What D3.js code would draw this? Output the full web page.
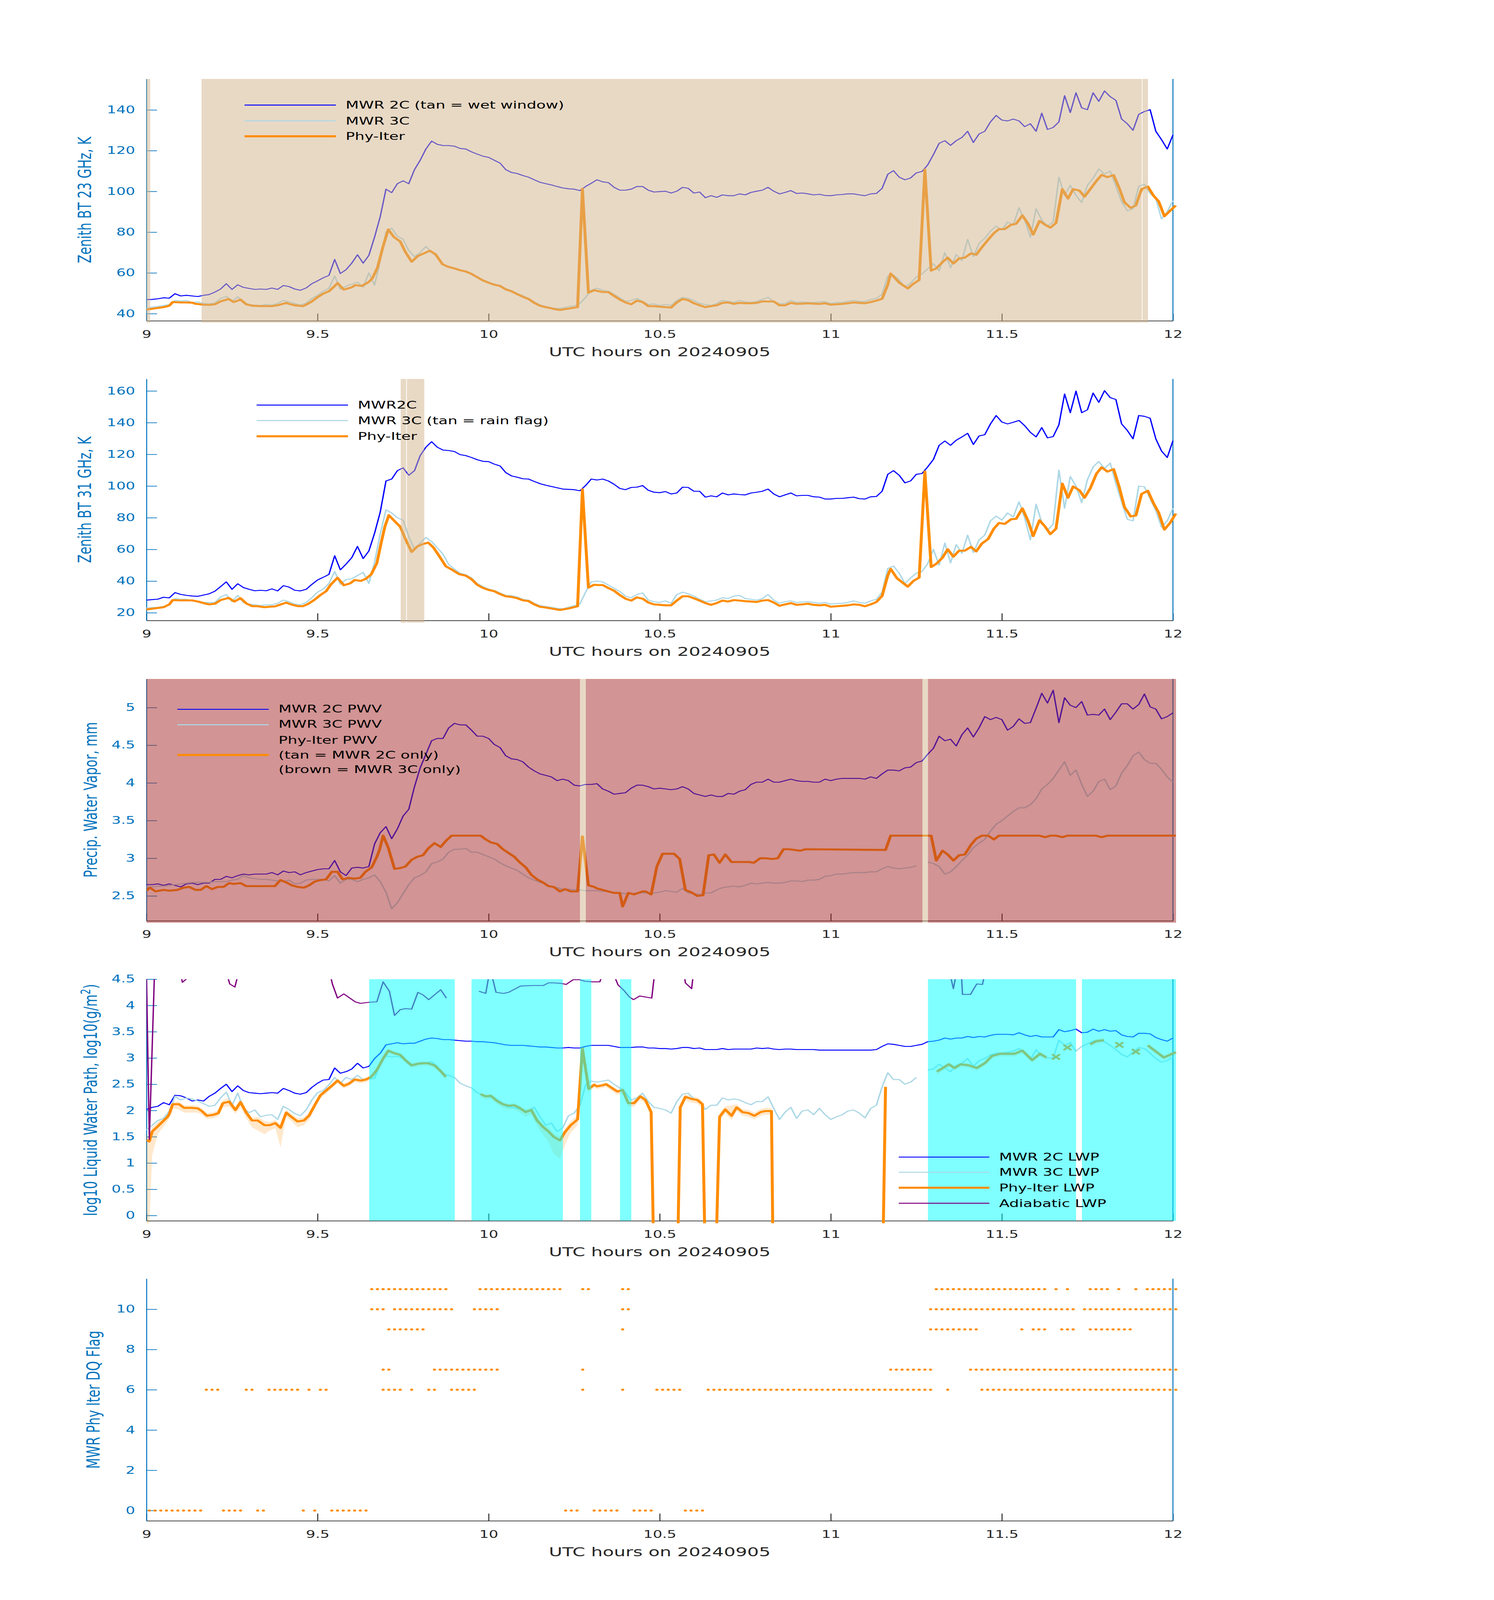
<!DOCTYPE html>
<html lang="en">
<head>
<meta charset="UTF-8">
<title>MWR 2C / 3C / Phy-Iter comparison, 20240905</title>
<script src="https://d3js.org/d3.v7.min.js"></script>
<style>
  html, body { margin: 0; background: #fff; overflow: hidden; }
  svg { display: block; font-family: "DejaVu Sans", sans-serif; }
</style>
</head>
<body>
<div id="chart"></div>
<script>
// ---------------------------------------------------------------
// Data. Series on a 1-minute grid: index = minutes after 09:00 UTC.
// Pair lists are [minute, value]; null breaks a line.
// ---------------------------------------------------------------
const xTicks = [9, 9.5, 10, 10.5, 11, 11.5, 12];
const bt23Ticks = [40, 60, 80, 100, 120, 140];
const bt31Ticks = [20, 40, 60, 80, 100, 120, 140, 160];
const pwvTicks = [2.5, 3, 3.5, 4, 4.5, 5];
const lwpTicks = [0, 0.5, 1, 1.5, 2, 2.5, 3, 3.5, 4, 4.5];
const dqTicks = [0, 2, 4, 6, 8, 10];

// 23 GHz brightness temperature, K
const bt23Mwr2c = [
  46.9,47.0,47.3,47.8,47.6,49.8,48.7,49.0,48.7,48.4,
  49.0,49.4,50.6,52.1,54.7,51.9,54.2,52.9,52.4,51.9,
  52.1,51.9,52.6,51.9,53.8,53.3,52.1,51.5,52.6,54.7,
  56.1,57.6,58.8,66.6,59.7,61.6,64.8,68.9,64.8,68.6,
  77.6,87.7,101.1,99.4,103.8,105.2,103.8,110.7,115.3,120.8,
  124.7,123.1,122.5,122.5,122.2,121.1,120.8,119.4,118.3,117.3,
  116.7,115.3,113.9,110.7,109.3,108.8,107.8,107.0,105.7,104.5,
  103.8,103.2,102.4,101.7,101.3,101.1,100.4,102.4,104.0,105.7,
  104.7,104.3,102.0,100.6,100.6,101.1,102.4,102.4,100.6,99.7,
  99.9,100.1,99.2,100.1,102.0,101.5,99.2,99.7,96.9,97.9,
  97.1,98.3,97.9,97.9,98.8,98.3,99.5,100.1,100.6,102.0,
  100.1,98.8,99.5,100.4,99.0,99.2,98.8,98.3,98.6,98.0,
  97.9,98.3,98.5,98.8,98.8,98.3,97.9,98.8,99.0,101.5,
  108.4,110.2,107.0,105.7,106.6,109.1,109.8,113.0,118.1,123.6,
  124.9,122.6,124.9,126.5,129.5,124.0,128.2,129.5,134.1,137.3,
  135.0,134.6,135.5,134.6,131.8,133.2,129.5,138.4,130.4,131.4,
  134.1,147.0,138.7,148.4,141.0,140.1,148.4,144.2,149.3,146.5,
  144.7,135.5,133.2,130.0,137.8,139.2,140.1,129.5,125.4,120.8,
  127.7];
const bt23Mwr3c = [
  42.5,43.2,43.6,44.0,44.5,46.5,46.2,46.5,45.5,45.8,
  45.0,44.8,45.2,47.5,48.5,46.0,48.3,45.5,44.5,44.2,
  44.0,44.5,44.2,45.0,46.5,45.8,45.0,44.2,45.2,47.5,
  49.0,51.0,52.5,58.5,52.0,53.5,54.5,55.5,53.0,60.0,
  54.0,66.0,80.0,82.0,78.0,76.5,71.0,68.0,70.0,73.0,
  70.0,68.0,64.5,62.8,62.0,61.5,60.5,59.8,58.0,56.6,
  55.5,54.5,54.0,52.3,51.3,50.0,48.8,47.5,45.8,44.3,
  43.5,42.9,42.5,42.8,43.5,43.8,45.0,48.0,51.5,52.5,
  51.5,51.0,49.5,47.8,46.0,46.5,47.5,46.0,44.5,44.8,
  44.0,44.5,44.0,46.5,48.0,47.5,46.5,45.0,44.5,44.0,
  45.0,46.5,46.0,45.5,46.5,45.8,45.5,46.0,47.0,48.0,
  46.0,44.8,45.0,46.5,45.5,45.8,45.5,45.5,45.8,45.8,
  45.0,45.5,45.5,46.0,46.5,46.0,46.0,47.0,47.5,49.5,
  58.5,59.0,56.5,53.0,55.0,58.0,59.5,62.0,64.5,61.0,
  70.0,62.5,69.0,66.0,76.5,68.0,74.5,77.0,80.5,83.0,
  81.0,85.0,83.5,92.0,86.0,77.5,91.5,86.0,83.0,85.0,
  107.0,98.0,103.0,98.0,94.5,103.0,106.5,111.0,108.5,110.0,
  102.5,95.0,90.5,91.5,102.5,103.5,99.0,96.5,86.5,90.0,
  95.5];
const bt23Phy = [[0,42.0],[3,43.2],[4,43.9],[4.6,45.7],[6,45.5],[7,45.5],[8,45.4],[8.5,44.9],[10,44.4],[11,44.3],[12,44.6],[13,46.0],[14.4,47.2],[15.3,45.7],[16.5,46.9],[17.5,44.6],[18.5,43.9],[20,43.7],[22,43.7],[23,44.1],[24.5,45.3],[25,44.8],[26,44.1],[27.4,43.7],[28,44.4],[29,46.0],[30,48.1],[31,49.8],[32,51.0],[32.9,53.3],[33.5,55.0],[34.6,51.8],[36,52.9],[36.6,54.0],[37.8,53.6],[39,55.6],[39.6,57.3],[40.5,62.5],[41.5,73.1],[42.4,81.3],[43.4,77.6],[44.5,75.4],[45.4,70.3],[46.5,65.5],[47.6,68.3],[48.5,69.4],[49.7,70.9],[50.7,69.1],[51.9,64.3],[52.8,63.1],[54,62.2],[55,61.3],[56,60.7],[57,59.5],[58,57.9],[59,56.3],[60,55.2],[61,54.2],[62,53.6],[63,51.9],[64,51.0],[65,49.6],[66,48.3],[67,47.2],[68,45.3],[69,43.9],[70,43.2],[71,42.6],[72,42.0],[72.5,41.8],[74,42.5],[75.6,43.2],[76.45,101.3],[77.5,50.3],[78.5,51.5],[80,50.6],[81,50.6],[82,48.7],[83,46.9],[84,45.5],[85,44.6],[86,46.4],[87,45.7],[88,43.7],[89,43.7],[90,43.4],[91,43.2],[92,43.0],[93,45.5],[94,47.2],[95,46.6],[96,45.1],[97,44.1],[98,43.2],[99,43.7],[100,44.1],[101,45.3],[102,45.5],[103,44.8],[104,45.3],[105,45.1],[106,45.1],[107,45.3],[108,46.0],[110,46.0],[111,44.1],[112,44.1],[113,45.3],[114,44.8],[115,44.9],[116,45.1],[117,44.9],[118,44.8],[119,45.1],[120,44.4],[121,44.6],[122,44.8],[123,45.1],[124,45.5],[125,45.3],[126,45.1],[127,45.7],[128,46.4],[129,47.3],[130,54.2],[130.5,59.7],[132,55.2],[133.5,52.4],[134.5,54.7],[135.5,56.5],[136.5,110.7],[137.6,61.1],[138.5,62.2],[139.6,65.3],[140.5,67.5],[141.5,64.6],[142.5,67.1],[143.5,67.5],[144.6,69.6],[145.5,68.9],[146.5,72.6],[147.6,76.3],[148.6,79.5],[149.5,81.5],[150.5,81.5],[151.6,83.6],[152.5,84.1],[153.6,88.2],[154.6,84.1],[155.5,78.8],[156.6,85.5],[157.6,83.6],[158.5,82.2],[159.5,84.5],[160.6,101.1],[161.6,96.5],[162.5,101.1],[163.6,100.4],[164.5,97.4],[165.5,101.1],[166.6,105.2],[167.5,108.1],[168.5,107.0],[169.6,108.0],[170.6,101.5],[171.5,94.6],[172.6,91.9],[173.5,93.1],[174.5,101.1],[175.6,102.4],[176.6,97.9],[177.5,95.1],[178.5,87.8],[179.5,90.5],[180.5,93.1]];
const wetWindowSpans = [[9.0, 9.011], [9.161, 11.909], [11.911, 11.927]];

// 31 GHz brightness temperature, K
const bt31Mwr2c = [
  28.0,28.3,28.6,29.8,29.4,32.7,31.6,31.0,30.6,30.4,
  31.2,32.0,33.6,36.5,39.5,34.8,38.3,35.9,34.8,33.9,
  34.2,33.9,35.1,33.8,37.1,36.2,34.2,33.8,34.8,37.9,
  40.7,42.4,44.2,56.0,47.1,50.7,54.8,61.9,54.2,59.0,
  70.2,83.7,103.2,104.4,109.7,111.5,106.8,109.7,119.2,124.5,
  128.0,124.5,122.7,122.4,121.8,119.8,119.2,118.0,116.6,115.6,
  115.4,113.8,112.7,108.5,106.4,105.6,104.6,104.4,102.9,101.5,
  100.5,99.7,98.9,98.1,97.9,97.7,97.0,100.3,104.4,103.8,
  104.4,103.2,101.1,98.5,97.7,99.1,99.3,100.3,97.3,96.1,
  95.8,96.5,95.0,95.6,99.3,99.1,96.7,96.7,93.0,93.8,
  93.2,95.6,94.4,95.0,94.6,94.4,95.6,96.1,96.7,98.1,
  95.0,93.2,94.4,95.6,93.8,94.1,94.1,93.2,93.0,91.8,
  91.8,92.2,92.2,92.6,93.0,92.0,91.8,93.2,93.4,96.7,
  107.4,109.7,106.8,102.0,103.2,107.4,107.9,112.1,116.8,125.7,
  128.4,125.7,128.9,131.0,133.3,126.2,131.6,132.4,139.2,144.5,
  140.4,139.2,140.2,141.4,138.1,133.9,131.0,136.9,130.4,131.2,
  138.6,158.1,146.3,159.9,146.3,148.1,158.7,152.8,160.2,155.8,
  154.6,139.2,135.1,129.8,144.5,144.0,142.8,129.8,122.1,118.0,
  128.6];
const bt31Mwr3c = [
  23.0,23.3,23.5,24.0,25.0,29.0,28.5,28.5,27.5,27.5,
  26.5,26.5,26.5,30.0,31.5,27.0,31.0,26.5,25.5,25.0,
  24.5,25.0,25.0,26.0,28.0,27.0,25.5,25.0,26.5,29.5,
  33.0,35.0,38.5,46.0,38.0,41.0,41.5,43.5,45.5,38.5,
  52.0,70.0,85.0,83.0,80.0,78.5,68.0,60.0,64.0,67.5,
  65.0,61.0,57.0,50.5,47.5,45.0,44.0,42.0,38.5,36.5,
  35.0,34.0,32.5,31.0,30.8,30.0,28.5,28.0,26.0,24.5,
  24.0,23.5,22.8,22.5,23.5,24.5,25.5,33.0,39.5,40.0,
  39.5,37.5,35.5,33.5,30.5,29.5,31.5,32.5,28.0,27.0,
  26.5,27.5,26.0,31.5,33.0,32.0,30.5,28.5,27.0,27.5,
  28.0,29.5,29.0,30.5,31.0,29.0,28.5,28.0,29.0,31.5,
  28.0,26.0,27.0,27.5,26.5,26.8,27.0,26.5,26.0,26.5,
  25.5,25.8,26.0,26.5,27.5,26.5,26.0,27.5,28.5,33.0,
  48.0,49.5,45.0,38.5,42.0,45.0,46.0,51.0,60.0,50.0,
  64.0,51.5,63.0,57.5,69.0,58.0,66.0,69.0,78.0,81.0,
  78.5,83.0,80.5,90.0,80.0,66.0,88.5,77.0,72.0,76.0,
  110.0,86.0,106.0,100.0,89.5,104.0,112.0,115.5,111.0,114.5,
  101.5,90.0,79.0,78.0,100.0,99.5,92.0,84.5,74.0,78.0,
  86.0];
const bt31Phy = [[0,22.1],[3,23.5],[4,25.3],[4.6,28.0],[6,27.8],[8,27.8],[9,27.1],[10,26.1],[11,25.3],[12,25.7],[13,28.0],[14.4,29.4],[15.4,27.1],[16.5,29.2],[17.5,25.9],[18.5,24.2],[19.5,24.1],[20.7,23.5],[21.6,23.8],[22.5,24.0],[23.5,25.2],[24.5,26.4],[25.4,25.2],[26.5,24.2],[27.4,24.1],[28.4,25.7],[29.5,28.3],[30.5,31.2],[31.5,33.6],[32.3,37.7],[33.5,42.1],[34.6,37.4],[35.7,38.5],[36.5,40.7],[37.6,40.1],[38.5,41.5],[39.4,44.2],[40.4,51.3],[41.2,64.9],[41.8,74.3],[42.5,81.6],[43.5,77.9],[44.5,74.3],[45.4,66.6],[46.5,58.4],[47.5,61.9],[48.5,63.4],[49.4,64.3],[50.3,61.3],[51.3,56.0],[52.5,49.3],[53.7,46.9],[54.8,44.4],[56,43.4],[57,41.2],[58,37.7],[59,35.7],[60,34.4],[61,33.6],[62,31.8],[63,30.4],[64,30.0],[65,29.2],[66,27.9],[67,27.4],[68,25.3],[69,23.8],[70,23.3],[71,22.7],[72,22.1],[72.5,21.8],[74,22.7],[75.6,24.1],[76.45,97.9],[77.5,35.9],[78.5,37.7],[79,37.5],[80,37.5],[81,35.6],[82,33.9],[83,31.2],[84,28.9],[85,27.7],[86,29.7],[87,28.9],[88,26.5],[89,25.3],[90,25.0],[91,24.7],[92,24.7],[93,27.7],[94,30.4],[95,30.4],[96,29.1],[97,27.7],[98,26.1],[99,25.0],[100,26.1],[101,27.7],[102,27.1],[103,28.0],[104,27.7],[105,27.3],[106,27.1],[107,26.8],[108,27.7],[109,28.0],[110,26.5],[111,24.4],[112,25.3],[113,26.1],[114,25.0],[115,25.3],[116,25.7],[117,25.0],[118,24.7],[119,25.0],[120,23.8],[121,24.1],[122,24.4],[123,24.7],[124,25.3],[125,25.0],[126,24.1],[127,25.3],[128,26.8],[129,30.6],[130,43.6],[130.5,47.7],[131.6,41.8],[133.5,36.5],[134.5,40.1],[135.5,42.2],[136.5,109.1],[137.6,48.9],[138.5,50.9],[139.6,54.8],[140.5,60.1],[141.5,55.4],[142.5,59.2],[143.5,59.2],[144.6,61.6],[145.5,58.7],[146.5,63.7],[147.6,66.6],[148.6,73.1],[149.5,76.7],[150.5,76.1],[151.6,79.0],[152.5,79.3],[153.6,85.9],[154.6,77.9],[155.5,68.4],[156.6,78.4],[157.6,74.3],[158.5,69.6],[159.5,73.1],[160.6,101.5],[161.6,92.6],[162.5,99.7],[163.6,97.3],[164.5,92.6],[165.5,98.5],[166.6,107.9],[167.5,111.8],[168.5,109.1],[169.6,110.7],[170.6,99.1],[171.5,86.7],[172.6,80.8],[173.5,81.4],[174.5,95.0],[175.6,97.0],[176.6,89.1],[177.5,83.2],[178.5,72.5],[179.5,76.7],[180.5,82.6]];
const rainFlagSpans = [[9.743, 9.759], [9.761, 9.812]];

// precipitable water vapour, mm
const pwvMwr2c = [
  2.65,2.65,2.66,2.64,2.66,2.64,2.62,2.66,2.67,2.65,
  2.67,2.67,2.72,2.72,2.76,2.74,2.77,2.79,2.78,2.79,
  2.79,2.79,2.81,2.78,2.83,2.81,2.82,2.78,2.81,2.83,
  2.85,2.86,2.86,2.97,2.82,2.77,2.87,2.88,2.87,2.89,
  3.19,3.34,3.42,3.26,3.39,3.56,3.65,3.95,4.20,4.38,
  4.56,4.59,4.59,4.73,4.79,4.77,4.77,4.70,4.62,4.62,
  4.59,4.51,4.47,4.36,4.32,4.31,4.28,4.21,4.16,4.12,
  4.10,4.08,4.03,4.05,4.03,3.97,3.96,3.98,3.98,3.99,
  3.92,3.89,3.85,3.86,3.87,3.93,3.97,3.97,3.95,3.92,
  3.93,3.92,3.91,3.92,3.95,3.92,3.86,3.84,3.82,3.84,
  3.82,3.82,3.86,3.85,3.89,3.91,3.98,4.01,4.01,4.05,
  4.01,4.01,4.03,4.05,4.03,4.02,4.02,4.01,4.01,4.05,
  4.03,4.05,4.06,4.06,4.06,4.06,4.05,4.08,4.06,4.12,
  4.17,4.17,4.16,4.20,4.21,4.27,4.29,4.38,4.46,4.62,
  4.56,4.58,4.49,4.64,4.73,4.61,4.73,4.88,4.84,4.87,
  4.84,4.70,4.75,4.85,4.79,4.80,4.99,5.19,5.06,5.23,
  4.80,5.13,5.03,5.00,5.08,4.90,4.91,4.90,4.98,4.84,
  4.94,5.05,5.05,4.98,5.04,5.18,5.01,4.98,4.85,4.88,
  4.93];
const pwvMwr3c = [
  2.62,2.62,2.63,2.63,2.64,2.65,2.66,2.67,2.68,2.68,
  2.68,2.68,2.69,2.69,2.69,2.71,2.72,2.77,2.74,2.73,
  2.72,2.72,2.71,2.70,2.69,2.71,2.66,2.67,2.71,2.72,
  2.72,2.72,2.70,2.77,2.67,2.72,2.72,2.69,2.72,2.74,
  2.78,2.69,2.55,2.33,2.41,2.53,2.65,2.74,2.77,2.82,
  2.93,2.95,2.99,3.08,3.12,3.12,3.13,3.08,3.08,3.05,
  3.02,2.99,2.94,2.90,2.87,2.84,2.79,2.74,2.71,2.68,
  2.66,2.62,2.61,2.59,2.59,2.58,2.58,2.57,2.57,2.57,
  2.56,2.56,2.54,2.54,2.53,2.53,2.54,2.54,2.54,2.54,
  2.55,2.57,2.56,2.55,2.60,2.54,2.53,2.52,2.54,2.54,
  2.58,2.61,2.62,2.63,2.62,2.64,2.67,2.66,2.67,2.68,
  2.67,2.67,2.68,2.70,2.70,2.69,2.71,2.71,2.72,2.76,
  2.77,2.79,2.79,2.80,2.81,2.81,2.81,2.82,2.82,2.86,
  2.89,2.87,2.86,2.87,2.88,2.90,null,2.95,2.93,2.89,
  2.79,2.82,2.89,2.97,3.04,3.14,3.20,3.25,3.36,3.45,
  3.50,3.56,3.62,3.67,3.67,3.71,3.79,3.92,3.98,4.06,
  4.17,4.28,4.10,4.17,3.98,3.82,3.89,4.02,4.05,3.91,
  3.96,4.13,4.23,4.36,4.41,4.31,4.26,4.26,4.18,4.08,
  4.01];
const pwvPhy = [[0,2.57],[0.6,2.61],[1.6,2.56],[3,2.58],[4,2.57],[5.4,2.58],[6.5,2.61],[7.5,2.62],[8.6,2.58],[9.5,2.58],[10.5,2.63],[11.5,2.59],[12.5,2.62],[13.5,2.62],[14.5,2.67],[15.3,2.66],[16.5,2.67],[17.5,2.63],[18.5,2.63],[22.5,2.63],[23.5,2.71],[24.5,2.68],[25.5,2.64],[26.5,2.62],[27.6,2.61],[28.5,2.64],[29.5,2.69],[30.5,2.71],[31.5,2.72],[32.5,2.82],[33.5,2.82],[34.4,2.72],[35.4,2.74],[36.5,2.73],[37.5,2.74],[38.4,2.82],[39.5,2.88],[40.4,3.02],[40.9,3.12],[41.5,3.30],[42.4,3.14],[43.5,2.86],[44.5,2.87],[45.4,2.89],[46.5,2.98],[47.5,3.02],[48.5,3.04],[49.4,3.13],[50.5,3.20],[51.6,3.15],[52.5,3.23],[53.5,3.30],[58.6,3.30],[59.5,3.25],[60.4,3.21],[61.5,3.19],[62.5,3.12],[63.5,3.07],[64.5,3.02],[65.4,2.95],[66.5,2.88],[67.5,2.78],[68.5,2.72],[69.5,2.68],[70.5,2.63],[71.4,2.62],[72.5,2.56],[73.4,2.59],[74.4,2.56],[75.6,2.56],[76.45,3.29],[77.5,2.64],[78.5,2.62],[79,2.60],[80,2.58],[81,2.56],[82,2.54],[83,2.54],[83.5,2.36],[84.5,2.54],[85.5,2.52],[87,2.56],[87.5,2.56],[88.5,2.52],[89.5,2.89],[90.5,3.06],[92.5,3.06],[93.5,2.99],[94.5,2.58],[95.5,2.55],[96.6,2.50],[97.6,2.51],[98.6,3.04],[99.5,3.05],[100.5,2.94],[101.5,3.05],[102.6,2.95],[105.7,2.95],[106.5,2.94],[107.6,3.00],[108.6,3.00],[109.7,2.99],[110.7,3.00],[111.7,3.12],[112.7,3.12],[114.6,3.10],[115.6,3.12],[129.6,3.11],[130.5,3.30],[137.6,3.30],[138.5,2.97],[139.6,3.10],[140.5,3.05],[141.5,2.97],[142.5,3.04],[143.5,3.05],[144.6,3.18],[145.5,3.26],[146.5,3.30],[147.6,3.30],[148.6,3.25],[149.5,3.30],[156.6,3.30],[157.6,3.28],[158.5,3.30],[159.5,3.30],[160.6,3.28],[161.5,3.30],[166.5,3.30],[167.5,3.28],[168.5,3.30],[180.5,3.30]];
const pwvTanSpans = [[10.267, 10.284], [11.268, 11.284]];
const pwvBrownSpans = [[9.0, 10.267], [10.284, 11.268], [11.284, 12.009]];

// log10 liquid water path, log10(g/m^2)
const lwpMwr2c = [
  2.02,2.06,2.08,2.15,2.11,2.29,2.28,2.24,2.18,2.20,
  2.18,2.27,2.33,2.42,2.50,2.36,2.47,2.38,2.34,2.33,
  2.32,2.33,2.34,2.33,2.42,2.38,2.33,2.31,2.34,2.44,
  2.52,2.58,2.59,2.81,2.71,2.74,2.79,2.90,2.81,2.84,
  2.99,3.09,3.25,3.27,3.29,3.27,3.28,3.28,3.32,3.36,
  3.38,3.37,3.35,3.35,3.34,3.33,3.32,3.32,3.31,3.31,
  3.30,3.29,3.27,3.25,3.24,3.24,3.24,3.23,3.22,3.21,
  3.21,3.20,3.19,3.19,3.20,3.19,3.19,3.22,3.24,3.24,
  3.24,3.24,3.22,3.20,3.20,3.20,3.21,3.21,3.19,3.19,
  3.18,3.18,3.17,3.18,3.20,3.20,3.18,3.19,3.16,3.16,
  3.16,3.18,3.16,3.17,3.17,3.17,3.17,3.19,3.18,3.19,
  3.17,3.16,3.17,3.17,3.16,3.16,3.16,3.16,3.15,3.15,
  3.15,3.15,3.15,3.15,3.15,3.15,3.15,3.15,3.16,3.22,
  3.27,3.26,3.24,3.22,3.22,3.24,3.26,3.31,3.32,3.34,
  3.38,3.36,3.38,3.38,3.41,3.39,3.41,3.40,3.43,3.45,
  3.45,3.45,3.44,3.48,3.44,3.41,3.43,3.40,3.40,3.40,
  3.54,3.50,3.52,3.55,3.48,3.49,3.55,3.51,3.54,3.51,
  3.52,3.44,3.41,3.40,3.47,3.47,3.46,3.39,3.35,3.32,
  3.38];
const lwpMwr3c = [
  1.63,1.72,1.81,1.85,1.99,2.27,2.20,2.24,2.22,2.18,
  2.13,2.08,2.10,2.24,2.35,2.10,2.33,2.04,1.96,2.01,
  1.88,1.91,1.92,1.83,2.08,2.02,1.94,1.90,2.01,2.20,
  2.34,2.38,2.49,2.63,2.52,2.63,2.59,2.67,2.59,2.60,
  2.61,2.91,3.04,3.02,3.03,2.99,2.88,2.88,2.89,2.90,
  2.93,2.84,2.70,2.67,2.63,2.52,2.47,2.43,2.34,2.29,
  2.26,2.24,2.17,2.08,2.06,2.04,2.01,1.99,2.06,1.88,
  1.72,1.76,1.60,1.67,1.90,1.95,2.10,2.48,2.56,2.54,
  2.56,2.58,2.50,2.43,2.34,2.20,2.24,2.33,2.17,2.06,
  2.04,2.01,1.95,2.17,2.31,2.33,2.22,2.18,2.02,2.10,
  2.10,2.24,2.20,2.22,2.20,2.15,2.11,2.17,2.17,2.26,
  2.04,1.83,1.97,2.06,1.85,1.99,2.01,1.92,2.04,1.92,
  1.83,1.88,1.92,1.99,2.01,1.95,1.86,2.04,2.10,2.45,
  2.72,2.59,2.59,2.50,2.54,2.63,null,2.77,2.79,2.88,
  2.81,2.74,2.86,2.90,2.99,2.84,2.95,2.99,3.06,3.09,
  3.09,3.11,3.13,3.18,3.09,2.97,3.16,3.04,3.00,3.00,
  3.34,3.24,3.29,3.13,3.22,3.27,3.32,3.34,3.31,3.24,
  3.16,3.07,3.02,3.11,3.20,3.18,3.09,2.99,2.92,2.95,
  3.02];
// [minute, value, band low, band high]; -1 = off the bottom of the axis
const lwpPhy = [[0,1.44,-0.2,1.55],[0.5,1.41,-0.2,1.48],[1,1.60,1.15,1.68],[2,1.70,1.55,1.78],[3.7,1.88,1.80,1.95],[4,1.93,1.86,2.00],[4.6,2.12,2.04,2.17],[5.7,2.12,2.02,2.17],[6.6,2.05,1.96,2.10],[8,2.05,1.96,2.10],[9,2.04,1.96,2.09],[9.7,1.99,1.92,2.04],[10.6,1.90,1.84,1.95],[11.8,1.92,1.86,1.97],[12.6,1.95,1.89,2.01],[13.4,2.14,2.06,2.20],[14.5,2.17,2.08,2.24],[15.6,2.01,1.94,2.07],[16.5,2.16,2.06,2.22],[17.5,1.96,1.85,2.02],[18.5,1.81,1.68,1.87],[19.5,1.81,1.62,1.88],[20.7,1.72,1.55,1.80],[21.6,1.72,1.62,1.78],[22.6,1.76,1.66,1.82],[23.5,1.67,1.30,1.73],[24.5,1.96,1.88,2.02],[25.4,1.88,1.80,1.94],[26.5,1.79,1.68,1.85],[27.6,1.81,1.72,1.87],[28.5,1.90,1.82,1.96],[29.5,2.10,2.03,2.15],[30.5,2.29,2.23,2.33],[31.5,2.38,2.32,2.42],[32.5,2.47,2.42,2.51],[33.5,2.57,2.52,2.61],[34.6,2.47,2.42,2.52],[35.5,2.51,2.46,2.55],[36.5,2.59,2.54,2.63],[37.6,2.57,2.52,2.61],[38.5,2.59,2.54,2.63],[39.4,2.64,2.59,2.68],[40.4,2.77,2.72,2.82],[41.5,2.99,2.94,3.04],[42.4,3.14,3.08,3.18],[43.5,3.09,3.04,3.13],[44.5,3.06,3.01,3.10],[45.4,2.96,2.91,3.00],[46.5,2.86,2.81,2.90],[47.6,2.89,2.84,2.93],[48.5,2.90,2.85,2.94],[49.4,2.90,2.85,2.94],[50.5,2.86,2.81,2.90],[51.6,2.75,2.70,2.79],[52.5,2.64,2.58,2.68],null,[58.6,2.31,2.25,2.35],[59.5,2.27,2.21,2.31],[60.4,2.28,2.22,2.32],[61.5,2.18,2.12,2.22],[62.5,2.12,2.05,2.16],[63.5,2.09,2.02,2.13],[64.5,2.10,2.03,2.14],[65.4,2.05,1.97,2.10],[66.5,1.97,1.88,2.02],[67.5,2.01,1.92,2.06],[68.5,1.81,1.70,1.87],[69.5,1.69,1.55,1.75],[70.5,1.60,1.40,1.67],[71.4,1.50,1.18,1.57],[72.5,1.43,1.08,1.50],[73.4,1.59,1.35,1.66],[74.4,1.72,1.58,1.80],[75.6,1.83,1.72,1.90],[76.45,3.18,3.10,3.22],[77.55,2.41,2.35,2.45],[78.5,2.49,2.44,2.53],[79,2.46,2.41,2.50],[80,2.48,2.43,2.52],[80.6,2.50,2.45,2.54],[81.6,2.43,2.37,2.47],[82.6,2.36,2.30,2.40],[83.5,2.39,2.33,2.43],[84.5,2.14,2.07,2.19],[85.5,2.14,2.07,2.19],[86.6,2.27,2.20,2.31],[87.5,2.20,2.13,2.25],[88.5,1.97,1.88,2.02],[89.0,-1,-1,-1],[93.1,-1,-1,-1],[93.6,2.06,1.98,2.12],[94.5,2.26,2.19,2.31],[95.6,2.22,2.15,2.27],[96.6,2.20,2.13,2.25],[97.5,2.12,2.05,2.18],[98.0,-1,-1,-1],[99.8,-1,-1,-1],[100.5,1.88,1.80,1.95],[101.5,2.02,1.95,2.08],[102.6,1.90,1.82,2.10],[103.5,2.06,1.99,2.12],[104.5,1.97,1.90,2.03],[105.6,1.95,1.88,2.01],[106.6,1.90,1.83,1.96],[107.7,1.97,1.90,2.03],[108.5,1.99,1.92,2.05],[109.6,1.99,1.92,2.05],[109.9,-1,-1,-1],null,[129.1,-1,-1,-1],[129.6,2.45,2.38,2.50],null,[138.6,2.74,2.68,2.78],[140.7,2.88,2.83,2.92],[141.7,2.81,2.76,2.85],[142.8,2.88,2.83,2.92],[144.2,2.86,2.81,2.90],[145.6,2.81,2.76,2.85],[147.0,2.90,2.85,2.94],[148.3,3.04,2.99,3.08],[149.7,3.08,3.03,3.12],[152.2,3.08,3.03,3.12],[153.6,3.14,3.09,3.18],[155.3,2.96,2.91,3.00],[156.7,3.08,3.03,3.12],[157.8,3.01,2.96,3.05],null,[159.5,3.02,2.97,3.06],null,[161.5,3.20,3.15,3.24],null,[165.5,3.26,3.21,3.30],[166.5,3.32,3.27,3.36],[167.9,3.34,3.29,3.38],null,[170.6,3.25,3.20,3.29],null,[173.5,3.12,3.07,3.16],null,[175.6,3.24,3.19,3.28],[178.4,3.01,2.96,3.05],[180.5,3.11,3.06,3.15]];
// adiabatic LWP; values of 4.6 sit just above the axis top
const lwpAdiabatic = [[0,4.6],[0.5,1.45],[1.4,4.6],[6.0,4.6],[6.3,4.44],[7.5,4.55],[7.8,4.6],[14.1,4.6],[14.6,4.41],[15.5,4.35],[16.1,4.6],[32.2,4.6],[32.6,4.41],[33.5,4.14],[34.6,4.22],[36.6,4.07],[37.5,4.04],[39.0,4.06],[40.4,4.07],[41.5,4.45],[42.6,4.27],[43.5,3.81],[44.5,3.92],[45.4,3.94],[46.5,3.93],[47.6,4.25],[48.5,4.20],[49.5,4.11],[50.5,4.20],[51.6,4.30],[52.6,4.14],null,[58.3,4.27],[59.5,4.23],[60.1,4.6],[60.5,4.6],[61.3,4.25],[62.6,4.23],[63.5,4.25],[65.6,4.37],[67.8,4.38],[69.6,4.38],[70.5,4.43],[71.4,4.43],[72.7,4.42],[73.6,4.40],[74.8,4.49],[76.0,4.49],[76.9,4.46],[78.2,4.45],[79.5,4.45],[80.0,4.6],[81.9,4.6],[82.7,4.39],[83.7,4.29],[84.7,4.16],[85.4,4.11],[86.5,4.18],[88.6,4.14],[89.1,4.6],[94.3,4.6],[94.5,4.43],[95.6,4.32],[95.9,4.6],[140.9,4.6],[141.5,4.32],[142.0,4.6],[142.9,4.6],[143.1,4.21],[144.5,4.21],[145.6,4.41],[146.6,4.40],[147.0,4.6],[180,4.6]];
const lwpCyanSpans = [[9.651, 9.901], [9.950, 10.217], [10.267, 10.300], [10.384, 10.417], [11.284, 11.717], [11.734, 12.009]];

// Phy-Iter DQ flag: runs of minute indices where each flag value is set
const dqFlag0Runs = [[0,9],[13,16],[19,20],[27,27],[29,29],[32,38],[73,75],[78,82],[85,88],[94,97]];
const dqFlag6Runs = [[10,12],[17,18],[21,26],[28,28],[30,31],[41,44],[46,46],[49,50],[53,57],[76,76],[83,83],[89,93],[98,137],[140,140],[146,180]];
const dqFlag7Runs = [[41,42],[50,61],[76,76],[130,137],[144,180]];
const dqFlag9Runs = [[42,48],[83,83],[137,145],[153,153],[155,157],[160,162],[165,172]];
const dqFlag10Runs = [[39,41],[43,53],[57,61],[83,84],[137,162],[164,180]];
const dqFlag11Runs = [[39,52],[58,72],[76,77],[83,84],[138,157],[159,159],[161,161],[165,168],[170,170],[173,173],[175,180]];

// ---------------------------------------------------------------
const BLUE = "#0000FF", LIGHTBLUE = "#ADD8E6", ORANGE = "#FF8C00", PURPLE = "#800080";
const TAN = "#D2B48C", BROWN = "#A52A2A", CYAN = "#00FFFF";
const AXIS_BLUE = "#0072BD", DARK = "#262626";
const W = 3825, H = 6000;

// The figure is laid out on a 3825 x 6000 canvas and scaled to whatever
// the window actually offers, so the whole figure is always in view.
const svg = d3.select("#chart").append("svg")
  .attr("width", window.innerWidth || W)
  .attr("height", Math.min(window.innerHeight || H, H))
  .attr("viewBox", `0 0 ${W} ${H}`)
  .attr("preserveAspectRatio", "none");
svg.append("rect").attr("width", W).attr("height", H).attr("fill", "#fff");

const x = d3.scaleLinear().domain([9, 12]).range([375, 3003]);
const hour = m => 9 + m / 60;
const onGrid = arr => arr.map((v, i) => [i, v]);

function makePanel(id, top, height, domain, ticks, label, labelX) {
  const bottom = top + height;
  const y = d3.scaleLinear().domain(domain).range([bottom, top]);
  const axes = svg.append("g");
  svg.append("clipPath").attr("id", "clip-" + id).append("rect")
    .attr("x", x(9)).attr("y", top).attr("width", x(12) - x(9) + 12).attr("height", height + 9);
  const data = svg.append("g").attr("clip-path", `url(#clip-${id})`);
  const overlay = svg.append("g");
  const legend = svg.append("g").attr("font-size", 39).attr("fill", "#000");

  // x axis
  axes.append("g").attr("transform", `translate(0,${bottom})`)
    .call(d3.axisBottom(x).tickValues(xTicks).tickFormat(d => d)
      .tickSize(-27).tickSizeOuter(0).tickPadding(37))
    .call(a => {
      a.attr("font-size", 38).attr("font-family", "DejaVu Sans");
      a.select(".domain").attr("stroke", DARK).attr("stroke-width", 2.5);
      a.selectAll(".tick line").attr("stroke", DARK).attr("stroke-width", 2.5);
      a.selectAll(".tick text").attr("fill", DARK);
    });
  // y axis
  axes.append("g").attr("transform", `translate(${x(9)},0)`)
    .call(d3.axisLeft(y).tickValues(ticks).tickFormat(d => d)
      .tickSize(-27).tickSizeOuter(0).tickPadding(29))
    .call(a => {
      a.attr("font-size", 38).attr("font-family", "DejaVu Sans");
      a.select(".domain").attr("stroke", AXIS_BLUE).attr("stroke-width", 2.5);
      a.selectAll(".tick line").attr("stroke", AXIS_BLUE).attr("stroke-width", 2.5);
      a.selectAll(".tick text").attr("fill", AXIS_BLUE);
    });
  // right edge
  axes.append("line").attr("x1", x(12)).attr("x2", x(12)).attr("y1", top).attr("y2", bottom)
    .attr("stroke", AXIS_BLUE).attr("stroke-width", 2.5);

  const yl = axes.append("text")
    .attr("transform", `translate(${labelX},${(top + bottom) / 2}) rotate(-90)`)
    .attr("text-anchor", "middle").attr("font-size", 47).attr("fill", AXIS_BLUE);
  if (Array.isArray(label)) {
    yl.append("tspan").text(label[0]);
    yl.append("tspan").attr("dy", -17).attr("font-size", 33).text(label[1]);
    yl.append("tspan").attr("dy", 17).text(label[2]);
  } else {
    yl.text(label);
  }
  axes.append("text").attr("x", (x(9) + x(12)) / 2).attr("y", bottom + 133)
    .attr("text-anchor", "middle").attr("font-size", 47).attr("fill", DARK)
    .text("UTC hours on 20240905");

  return { y, data, overlay, legend, top, bottom };
}

function drawLine(p, pts, color, width) {
  p.data.append("path").datum(pts)
    .attr("fill", "none").attr("stroke", color).attr("stroke-width", width)
    .attr("stroke-linejoin", "round")
    .attr("d", d3.line()
      .defined(d => d != null && d[1] != null)
      .x(d => x(hour(d[0]))).y(d => p.y(d[1])));
}

function shade(p, spans, color, extra) {
  spans.forEach(([a, b]) => p.overlay.append("rect")
    .attr("x", x(a)).attr("width", x(b) - x(a))
    .attr("y", p.top).attr("height", p.bottom - p.top + extra)
    .attr("fill", color).attr("fill-opacity", 0.5));
}

function legendRows(p, x0, x1, rows) {
  rows.forEach(r => {
    if (r.color) p.legend.append("line")
      .attr("x1", x0).attr("x2", x1).attr("y1", r.y).attr("y2", r.y)
      .attr("stroke", r.color).attr("stroke-width", r.w);
    if (r.text) p.legend.append("text")
      .attr("x", x1 + 25).attr("y", r.ty != null ? r.ty : r.y).attr("dy", "0.35em").text(r.text);
  });
}

// ---------------- panel 1: 23 GHz ----------------
const p1 = makePanel("bt23", 296, 907, [36.5, 155.2], bt23Ticks, "Zenith BT 23 GHz, K", 233);
drawLine(p1, onGrid(bt23Mwr2c), BLUE, 3.5);
drawLine(p1, onGrid(bt23Mwr3c), LIGHTBLUE, 4);
drawLine(p1, bt23Phy, ORANGE, 7.5);
shade(p1, wetWindowSpans, TAN, 7);
legendRows(p1, 626, 860, [
  { y: 394, color: BLUE, w: 3.5, text: "MWR 2C (tan = wet window)" },
  { y: 453, color: LIGHTBLUE, w: 4, text: "MWR 3C" },
  { y: 511, color: ORANGE, w: 7.5, text: "Phy-Iter" }
]);

// ---------------- panel 2: 31 GHz ----------------
const p2 = makePanel("bt31", 1421, 906, [15.1, 167.6], bt31Ticks, "Zenith BT 31 GHz, K", 233);
drawLine(p2, onGrid(bt31Mwr2c), BLUE, 3.5);
drawLine(p2, onGrid(bt31Mwr3c), LIGHTBLUE, 4);
drawLine(p2, bt31Phy, ORANGE, 7.5);
shade(p2, rainFlagSpans, TAN, 8);
legendRows(p2, 657, 891, [
  { y: 1519, color: BLUE, w: 3.5, text: "MWR2C" },
  { y: 1577, color: LIGHTBLUE, w: 4, text: "MWR 3C (tan = rain flag)" },
  { y: 1636, color: ORANGE, w: 7.5, text: "Phy-Iter" }
]);

// ---------------- panel 3: PWV ----------------
const p3 = makePanel("pwv", 2546, 907, [2.17, 5.38], pwvTicks, "Precip. Water Vapor, mm", 248);
drawLine(p3, onGrid(pwvMwr2c), BLUE, 3.5);
drawLine(p3, onGrid(pwvMwr3c), LIGHTBLUE, 4);
drawLine(p3, pwvPhy, ORANGE, 7.5);
shade(p3, pwvBrownSpans, BROWN, 7);
shade(p3, pwvTanSpans, TAN, 7);
legendRows(p3, 454, 688, [
  { y: 2660, color: BLUE, w: 3.5, text: "MWR 2C PWV", ty: 2658 },
  { y: 2718, color: LIGHTBLUE, w: 4, text: "MWR 3C PWV", ty: 2716 },
  { y: 2776, text: "Phy-Iter PWV" },
  { y: 2831, color: ORANGE, w: 7.5, text: "(tan = MWR 2C only)" },
  { y: 2885, text: "(brown = MWR 3C only)" }
]);

// ---------------- panel 4: LWP ----------------
const p4 = makePanel("lwp", 3672, 906, [-0.1, 4.5], lwpTicks,
  ["log10 Liquid Water Path, log10(g/m", "2", ")"], 248);
p4.data.append("path").datum(lwpPhy)
  .attr("fill", ORANGE).attr("fill-opacity", 0.2).attr("stroke", "none")
  .attr("d", d3.area().defined(d => d != null)
    .x(d => x(hour(d[0]))).y0(d => p4.y(d[2])).y1(d => p4.y(d[3])));
drawLine(p4, onGrid(lwpMwr2c), BLUE, 3.5);
drawLine(p4, onGrid(lwpMwr3c), LIGHTBLUE, 4);
drawLine(p4, lwpPhy, ORANGE, 7.5);
// isolated Phy-Iter retrievals show as x markers
lwpPhy.forEach((d, i) => {
  if (d && !lwpPhy[i - 1] && !lwpPhy[i + 1]) {
    p4.data.append("path")
      .attr("transform", `translate(${x(hour(d[0]))},${p4.y(d[1])})`)
      .attr("d", "M-10,-10L10,10M-10,10L10,-10")
      .attr("stroke", ORANGE).attr("stroke-width", 6).attr("fill", "none");
  }
});
drawLine(p4, lwpAdiabatic, PURPLE, 3.5);
shade(p4, lwpCyanSpans, CYAN, 0);
legendRows(p4, 2301, 2533, [
  { y: 4339, color: BLUE, w: 3.5, text: "MWR 2C LWP" },
  { y: 4396, color: LIGHTBLUE, w: 4, text: "MWR 3C LWP" },
  { y: 4454, color: ORANGE, w: 7.5, text: "Phy-Iter LWP" },
  { y: 4512, color: PURPLE, w: 3.5, text: "Adiabatic LWP" }
]);

// ---------------- panel 5: DQ flag ----------------
const p5 = makePanel("dq", 4795, 908, [-0.51, 11.52], dqTicks, "MWR Phy Iter DQ Flag", 255);
const dqRuns = [[0, dqFlag0Runs], [6, dqFlag6Runs], [7, dqFlag7Runs],
                [9, dqFlag9Runs], [10, dqFlag10Runs], [11, dqFlag11Runs]];
const dqPoints = [];
dqRuns.forEach(([flag, runs]) => runs.forEach(([a, b]) => {
  for (let k = a; k <= b; k++) dqPoints.push({ t: hour(k + 0.5), flag });
}));
svg.append("g").selectAll("circle").data(dqPoints).join("circle")
  .attr("cx", d => x(d.t)).attr("cy", d => p5.y(d.flag))
  .attr("r", 4).attr("fill", ORANGE);
</script>
</body>
</html>
